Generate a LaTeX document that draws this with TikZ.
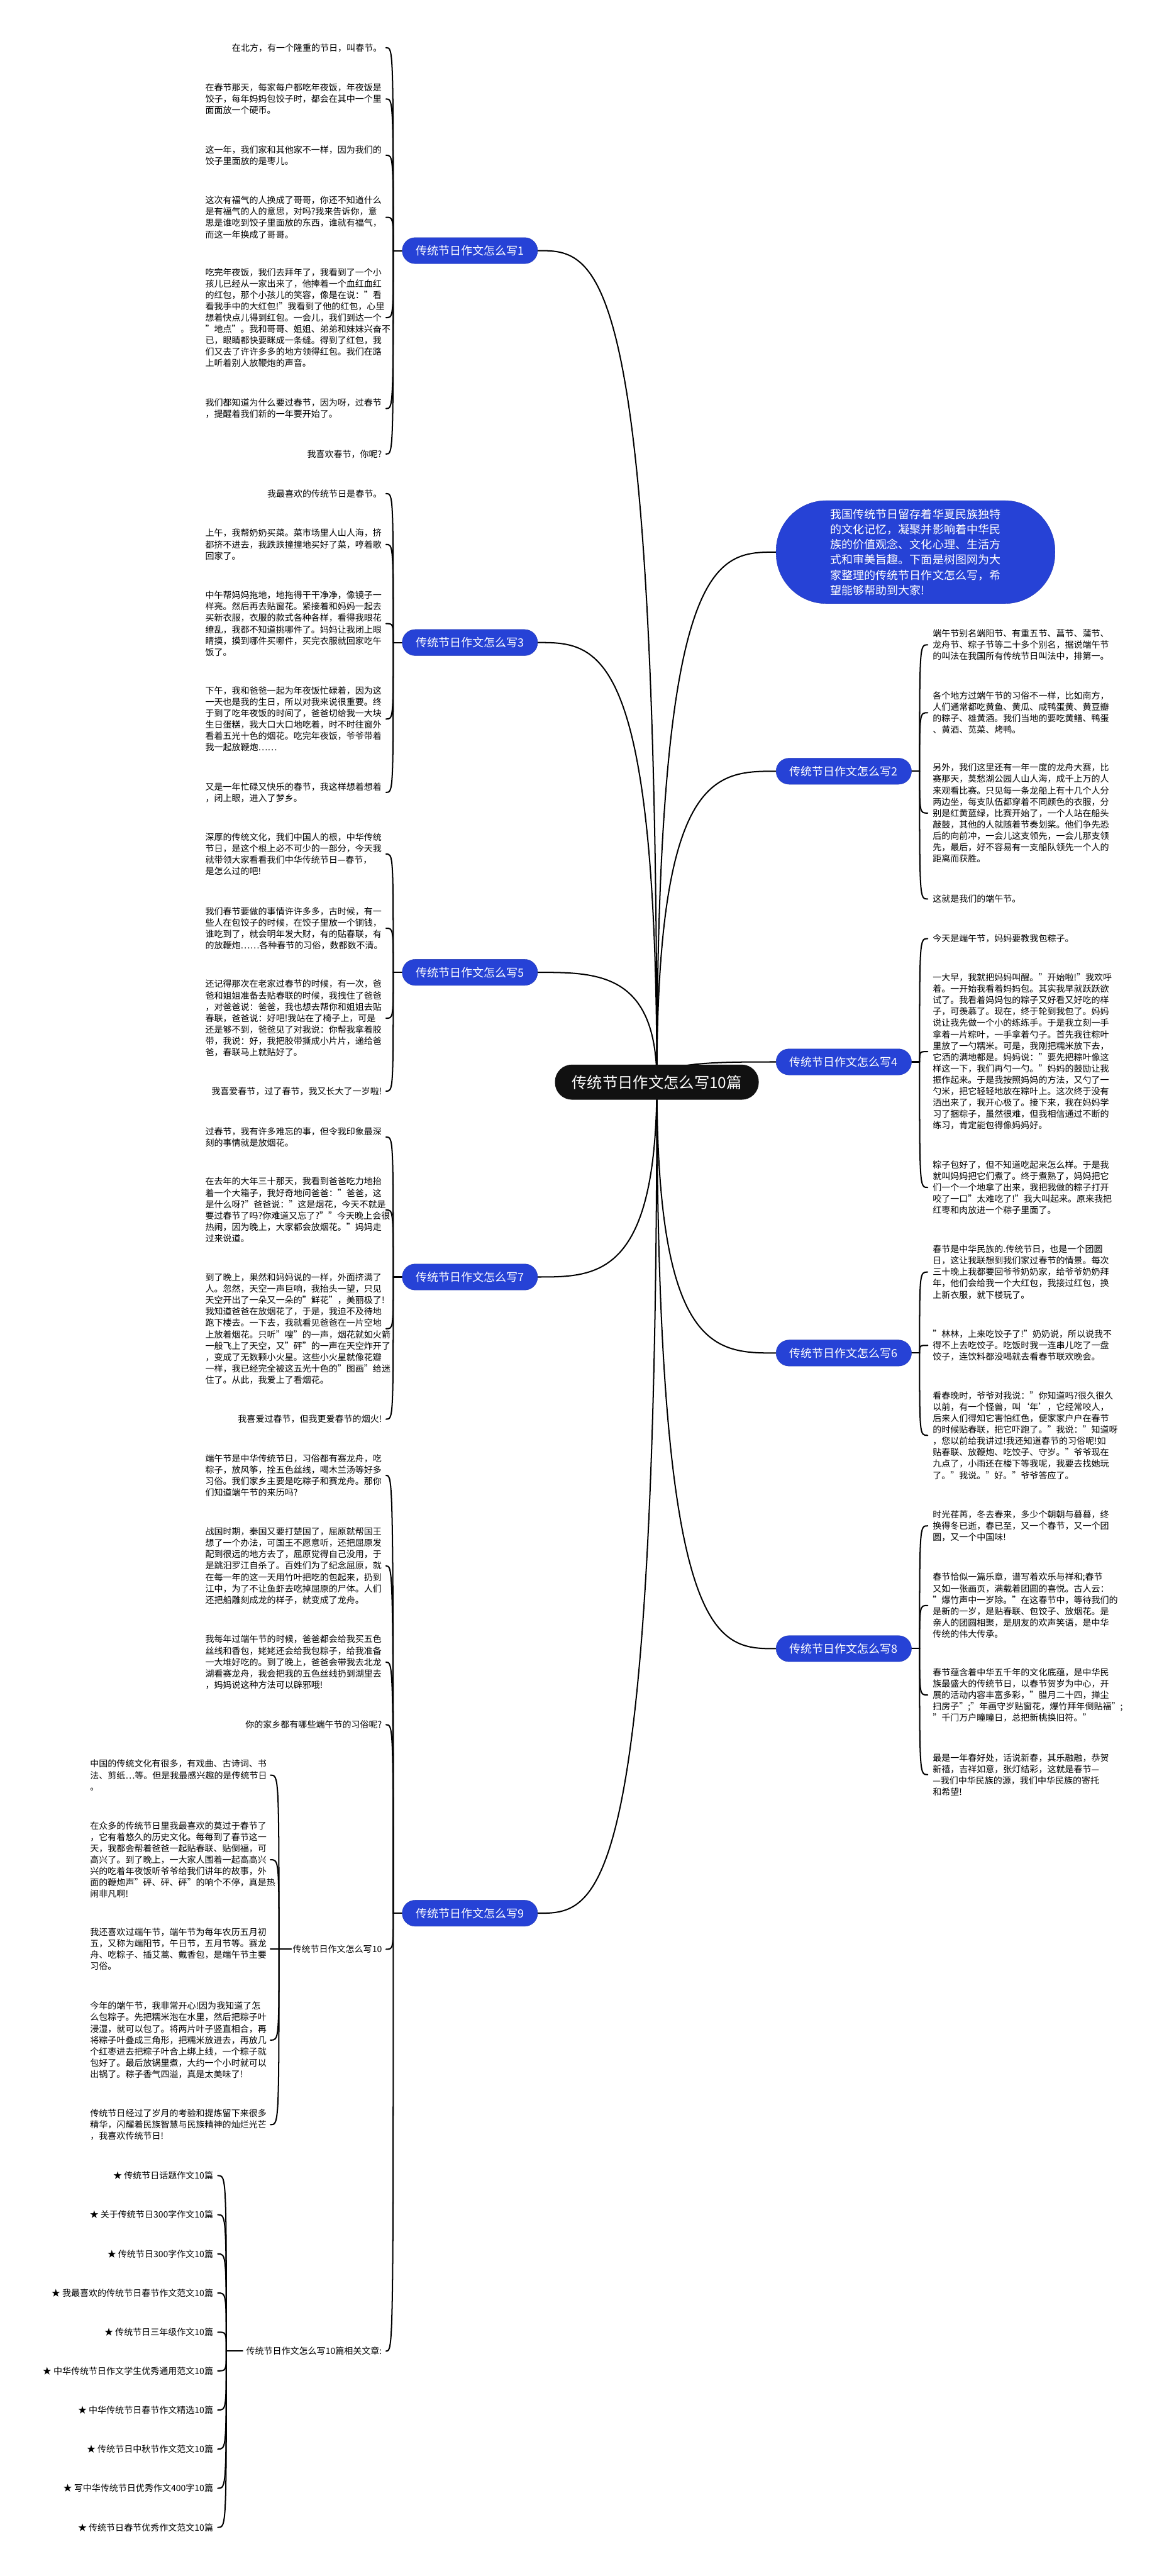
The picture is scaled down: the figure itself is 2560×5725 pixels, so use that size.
\documentclass[tikz,border=0pt]{standalone}
\usepackage{fontspec}
\setmainfont{Noto Sans CJK SC}
\usetikzlibrary{calc}
\setlength{\parindent}{0pt}
\definecolor{topicblue}{RGB}{38,66,214}
\definecolor{topicedge}{RGB}{30,52,175}
\definecolor{rootblack}{RGB}{17,17,17}
\pgfdeclarelayer{wm}
\pgfdeclarelayer{bg}
\pgfsetlayers{wm,bg,main}
\begin{document}
\begin{tikzpicture}[x=0.05cm,y=-0.05cm,
  bodytxt/.style={inner sep=0pt, font=\fontsize{27.88pt}{36pt}\selectfont, align=left},
  lone/.style={bodytxt, anchor=east},
  lblock/.style={bodytxt, anchor=east, text width=19.62cm},
  rone/.style={bodytxt, anchor=west},
  rblock/.style={bodytxt, anchor=west, text width=19.62cm},
  topicnode/.style={fill=topicblue, draw=topicedge, line width=0.8pt, text=white, rounded corners=1.44cm, minimum width=15.05cm, minimum height=2.9cm, inner sep=0pt, font=\fontsize{35.85pt}{44pt}\selectfont},
  rootnode/.style={fill=rootblack, text=white, rounded corners=1.9cm, minimum width=22.65cm, minimum height=3.9cm, inner sep=0pt, font=\fontsize{48.4pt}{52pt}\selectfont},
  intronode/.style={fill=topicblue, draw=topicedge, line width=0.8pt, text=white, rounded corners=5.6cm, minimum width=31cm, minimum height=11.45cm, inner sep=0pt, align=left, font=\fontsize{35.85pt}{48.2pt}\selectfont},
  conn/.style={line width=4pt, line cap=round, black}
]
\useasboundingbox (0,0) rectangle (2560,5725);
\begin{pgfonlayer}{wm}
\fill[white] (0,0) rectangle (2560,5725);
\end{pgfonlayer}

% root
\node[rootnode] (c) at (1460,2405) {传统节日作文怎么写10篇};

% intro
\node[intronode] (intro) at (2035,1227) {我国传统节日留存着华夏民族独特\\的文化记忆，凝聚并影响着中华民\\族的价值观念、文化心理、生活方\\式和审美旨趣。下面是树图网为大\\家整理的传统节日作文怎么写，希\\望能够帮助到大家!};

% topics
\node[topicnode] (t1) at (1044.5,557) {传统节日作文怎么写1};
\node[topicnode] (t3) at (1044.5,1428) {传统节日作文怎么写3};
\node[topicnode] (t5) at (1044.5,2161) {传统节日作文怎么写5};
\node[topicnode] (t7) at (1044.5,2838) {传统节日作文怎么写7};
\node[topicnode] (t9) at (1044.5,4252) {传统节日作文怎么写9};
\node[topicnode] (t2) at (1875.5,1714) {传统节日作文怎么写2};
\node[topicnode] (t4) at (1875.5,2360) {传统节日作文怎么写4};
\node[topicnode] (t6) at (1875.5,3007) {传统节日作文怎么写6};
\node[topicnode] (t8) at (1875.5,3664) {传统节日作文怎么写8};

% branch 1
\node[lone] (a1) at (849,106) {在北方，有一个隆重的节日，叫春节。};
\node[lblock] (a2) at (849,220) {在春节那天，每家每户都吃年夜饭，年夜饭是\\饺子，每年妈妈包饺子时，都会在其中一个里\\面面放一个硬币。};
\node[lblock] (a3) at (849,345) {这一年，我们家和其他家不一样，因为我们的\\饺子里面放的是枣儿。};
\node[lblock] (a4) at (849,483) {这次有福气的人换成了哥哥，你还不知道什么\\是有福气的人的意思，对吗?我来告诉你，意\\思是谁吃到饺子里面放的东西，谁就有福气，\\而这一年换成了哥哥。};
\node[lblock] (a5) at (849,706) {吃完年夜饭，我们去拜年了，我看到了一个小\\孩儿已经从一家出来了，他捧着一个血红血红\\的红包，那个小孩儿的笑容，像是在说："看\\看我手中的大红包!"我看到了他的红包，心里\\想着快点儿得到红包。一会儿，我们到达一个\\"地点"。我和哥哥、姐姐、弟弟和妹妹兴奋不\\已，眼睛都快要眯成一条缝。得到了红包，我\\们又去了许许多多的地方领得红包。我们在路\\上听着别人放鞭炮的声音。};
\node[lblock] (a6) at (849,908) {我们都知道为什么要过春节，因为呀，过春节\\，提醒着我们新的一年要开始了。};
\node[lone] (a7) at (849,1009) {我喜欢春节，你呢?};

% branch 3
\node[lone] (b1) at (849,1097) {我最喜欢的传统节日是春节。};
\node[lblock] (b2) at (849,1210) {上午，我帮奶奶买菜。菜市场里人山人海，挤\\都挤不进去，我跌跌撞撞地买好了菜，哼着歌\\回家了。};
\node[lblock] (b3) at (849,1386) {中午帮妈妈拖地，地拖得干干净净，像镜子一\\样亮。然后再去贴窗花。紧接着和妈妈一起去\\买新衣服，衣服的款式各种各样，看得我眼花\\缭乱，我都不知道挑哪件了。妈妈让我闭上眼\\睛摸，摸到哪件买哪件，买完衣服就回家吃午\\饭了。};
\node[lblock] (b4) at (849,1598) {下午，我和爸爸一起为年夜饭忙碌着，因为这\\一天也是我的生日，所以对我来说很重要。终\\于到了吃年夜饭的时间了，爸爸切给我一大块\\生日蛋糕，我大口大口地吃着，时不时往窗外\\看着五光十色的烟花。吃完年夜饭，爷爷带着\\我一起放鞭炮……};
\node[lblock] (b5) at (849,1761) {又是一年忙碌又快乐的春节，我这样想着想着\\，闭上眼，进入了梦乡。};

% branch 5
\node[lblock] (c1) at (849,1898) {深厚的传统文化，我们中国人的根，中华传统\\节日，是这个根上必不可少的一部分，今天我\\就带领大家看看我们中华传统节日—春节，\\是怎么过的吧!};
\node[lblock] (c2) at (849,2063) {我们春节要做的事情许许多多，古时候，有一\\些人在包饺子的时候，在饺子里放一个铜钱，\\谁吃到了，就会明年发大财，有的贴春联，有\\的放鞭炮……各种春节的习俗，数都数不清。};
\node[lblock] (c3) at (849,2263) {还记得那次在老家过春节的时候，有一次，爸\\爸和姐姐准备去贴春联的时候，我拽住了爸爸\\，对爸爸说：爸爸，我也想去帮你和姐姐去贴\\春联，爸爸说：好吧!我站在了椅子上，可是\\还是够不到，爸爸见了对我说：你帮我拿着胶\\带，我说：好，我把胶带撕成小片片，递给爸\\爸，春联马上就贴好了。};
\node[lone] (c4) at (849,2425) {我喜爱春节，过了春节，我又长大了一岁啦!};

% branch 7
\node[lblock] (d1) at (849,2527) {过春节，我有许多难忘的事，但令我印象最深\\刻的事情就是放烟花。};
\node[lblock] (d2) at (849,2689) {在去年的大年三十那天，我看到爸爸吃力地抬\\着一个大箱子，我好奇地问爸爸："爸爸，这\\是什么呀?"爸爸说："这是烟花，今天不就是\\要过春节了吗?你难道又忘了?""今天晚上会很\\热闹，因为晚上，大家都会放烟花。"妈妈走\\过来说道。};
\node[lblock] (d3) at (849,2953) {到了晚上，果然和妈妈说的一样，外面挤满了\\人。忽然，天空一声巨响，我抬头一望，只见\\天空开出了一朵又一朵的"鲜花"，美丽极了!\\我知道爸爸在放烟花了，于是，我迫不及待地\\跑下楼去。一下去，我就看见爸爸在一片空地\\上放着烟花。只听"嗖"的一声，烟花就如火箭\\一般飞上了天空，又"砰"的一声在天空炸开了\\，变成了无数颗小火星。这些小火星就像花瓣\\一样，我已经完全被这五光十色的"图画"给迷\\住了。从此，我爱上了看烟花。};
\node[lone] (d4) at (849,3154) {我喜爱过春节，但我更爱春节的烟火!};

% branch 9
\node[lblock] (e1) at (849,3279) {端午节是中华传统节日，习俗都有赛龙舟，吃\\粽子，放风筝，拴五色丝线，喝木兰汤等好多\\习俗。我们家乡主要是吃粽子和赛龙舟。那你\\们知道端午节的来历吗?};
\node[lblock] (e2) at (849,3480) {战国时期，秦国又要打楚国了，屈原就帮国王\\想了一个办法，可国王不愿意听，还把屈原发\\配到很远的地方去了，屈原觉得自己没用，于\\是跳汨罗江自杀了。百姓们为了纪念屈原，就\\在每一年的这一天用竹叶把吃的包起来，扔到\\江中，为了不让鱼虾去吃掉屈原的尸体。人们\\还把船雕刻成龙的样子，就变成了龙舟。};
\node[lblock] (e3) at (849,3694) {我每年过端午节的时候，爸爸都会给我买五色\\丝线和香包，姥姥还会给我包粽子，给我准备\\一大堆好吃的。到了晚上，爸爸会带我去北龙\\湖看赛龙舟，我会把我的五色丝线扔到湖里去\\，妈妈说这种方法可以辟邪哦!};
\node[lone] (e4) at (849,3833) {你的家乡都有哪些端午节的习俗呢?};
\node[lone] (e5) at (849,4332) {传统节日作文怎么写10};
\node[lone] (e6) at (849,5225) {传统节日作文怎么写10篇相关文章:};

% branch 10 (sub)
\node[lblock] (f1) at (593,3945) {中国的传统文化有很多，有戏曲、古诗词、书\\法、剪纸…等。但是我最感兴趣的是传统节日\\。};
\node[lblock] (f2) at (593,4133) {在众多的传统节日里我最喜欢的莫过于春节了\\，它有着悠久的历史文化。每每到了春节这一\\天，我都会帮着爸爸一起贴春联、贴倒福，可\\高兴了。到了晚上，一大家人围着一起高高兴\\兴的吃着年夜饭听爷爷给我们讲年的故事，外\\面的鞭炮声"砰、砰、砰"的响个不停，真是热\\闹非凡啊!};
\node[lblock] (f3) at (593,4332) {我还喜欢过端午节，端午节为每年农历五月初\\五，又称为端阳节，午日节，五月节等。赛龙\\舟、吃粽子、插艾蒿、戴香包，是端午节主要\\习俗。};
\node[lblock] (f4) at (593,4534) {今年的端午节，我非常开心!因为我知道了怎\\么包粽子。先把糯米泡在水里，然后把粽子叶\\浸湿，就可以包了。将两片叶子竖直相合，再\\将粽子叶叠成三角形，把糯米放进去，再放几\\个红枣进去把粽子叶合上绑上线，一个粽子就\\包好了。最后放锅里煮，大约一个小时就可以\\出锅了。粽子香气四溢，真是太美味了!};
\node[lblock] (f5) at (593,4722) {传统节日经过了岁月的考验和提炼留下来很多\\精华，闪耀着民族智慧与民族精神的灿烂光芒\\，我喜欢传统节日!};

% related articles
\node[lone] (r1) at (474,4835) {★ 传统节日话题作文10篇};
\node[lone] (r2) at (474,4922) {★ 关于传统节日300字作文10篇};
\node[lone] (r3) at (474,5009) {★ 传统节日300字作文10篇};
\node[lone] (r4) at (474,5096) {★ 我最喜欢的传统节日春节作文范文10篇};
\node[lone] (r5) at (474,5183) {★ 传统节日三年级作文10篇};
\node[lone] (r6) at (474,5269) {★ 中华传统节日作文学生优秀通用范文10篇};
\node[lone] (r7) at (474,5356) {★ 中华传统节日春节作文精选10篇};
\node[lone] (r8) at (474,5443) {★ 传统节日中秋节作文范文10篇};
\node[lone] (r9) at (474,5530) {★ 写中华传统节日优秀作文400字10篇};
\node[lone] (r10) at (474,5617) {★ 传统节日春节优秀作文范文10篇};

% branch 2
\node[rblock] (g1) at (2073,1433) {端午节别名端阳节、有重五节、菖节、蒲节、\\龙舟节、粽子节等二十多个别名，据说端午节\\的叫法在我国所有传统节日叫法中，排第一。};
\node[rblock] (g2) at (2073,1584) {各个地方过端午节的习俗不一样，比如南方，\\人们通常都吃黄鱼、黄瓜、咸鸭蛋黄、黄豆瓣\\的粽子、雄黄酒。我们当地的要吃黄鳝、鸭蛋\\、黄酒、苋菜、烤鸭。};
\node[rblock] (g3) at (2073,1807) {另外，我们这里还有一年一度的龙舟大赛，比\\赛那天，莫愁湖公园人山人海，成千上万的人\\来观看比赛。只见每一条龙船上有十几个人分\\两边坐，每支队伍都穿着不同颜色的衣服，分\\别是红黄蓝绿，比赛开始了，一个人站在船头\\敲鼓，其他的人就随着节奏划桨。他们争先恐\\后的向前冲，一会儿这支领先，一会儿那支领\\先，最后，好不容易有一支船队领先一个人的\\距离而获胜。};
\node[rone] (g4) at (2073,1998) {这就是我们的端午节。};

% branch 4
\node[rone] (h1) at (2073,2086) {今天是端午节，妈妈要教我包粽子。};
\node[rblock] (h2) at (2073,2337) {一大早，我就把妈妈叫醒。"开始啦!"我欢呼\\着。一开始我看着妈妈包。其实我早就跃跃欲\\试了。我看着妈妈包的粽子又好看又好吃的样\\子，可羡慕了。现在，终于轮到我包了。妈妈\\说让我先做一个小的练练手。于是我立刻一手\\拿着一片粽叶，一手拿着勺子。首先我往粽叶\\里放了一勺糯米。可是，我刚把糯米放下去，\\它洒的满地都是。妈妈说："要先把粽叶像这\\样这一下，我们再勺一勺。"妈妈的鼓励让我\\振作起来。于是我按照妈妈的方法，又勺了一\\勺米，把它轻轻地放在粽叶上。这次终于没有\\洒出来了，我开心极了。接下来，我在妈妈学\\习了捆粽子，虽然很难，但我相信通过不断的\\练习，肯定能包得像妈妈好。};
\node[rblock] (h3) at (2073,2639) {粽子包好了，但不知道吃起来怎么样。于是我\\就叫妈妈把它们煮了。终于煮熟了，妈妈把它\\们一个一个地拿了出来，我把我做的粽子打开\\咬了一口"太难吃了!"我大叫起来。原来我把\\红枣和肉放进一个粽子里面了。};

% branch 6
\node[rblock] (i1) at (2073,2827) {春节是中华民族的.传统节日，也是一个团圆\\日，这让我联想到我们家过春节的情景。每次\\三十晚上我都要回爷爷奶奶家，给爷爷奶奶拜\\年，他们会给我一个大红包，我接过红包，换\\上新衣服，就下楼玩了。};
\node[rblock] (i2) at (2073,2990) {"林林，上来吃饺子了!"奶奶说，所以说我不\\得不上去吃饺子。吃饭时我一连串儿吃了一盘\\饺子，连饮料都没喝就去看春节联欢晚会。};
\node[rblock] (i3) at (2073,3190) {看春晚时，爷爷对我说："你知道吗?很久很久\\以前，有一个怪兽，叫‘年’，它经常咬人，\\后来人们得知它害怕红色，便家家户户在春节\\的时候贴春联，把它吓跑了。"我说："知道呀\\，您以前给我讲过!我还知道春节的习俗呢!如\\贴春联、放鞭炮、吃饺子、守岁。"爷爷现在\\九点了，小雨还在楼下等我呢，我要去找她玩\\了。"我说。"好。"爷爷答应了。};

% branch 8
\node[rblock] (k1) at (2073,3391) {时光荏苒，冬去春来，多少个朝朝与暮暮，终\\换得冬已逝，春已至，又一个春节，又一个团\\圆，又一个中国味!};
\node[rblock] (k2) at (2073,3568) {春节恰似一篇乐章，谱写着欢乐与祥和;春节\\又如一张画页，满载着团圆的喜悦。古人云：\\"爆竹声中一岁除。"在这春节中，等待我们的\\是新的一岁，是贴春联、包饺子、放烟花。是\\亲人的团圆相聚，是朋友的欢声笑语，是中华\\传统的伟大传承。};
\node[rblock] (k3) at (2073,3767) {春节蕴含着中华五千年的文化底蕴，是中华民\\族最盛大的传统节日，以春节贺岁为中心，开\\展的活动内容丰富多彩，"腊月二十四，掸尘\\扫房子";"年画守岁贴窗花，爆竹拜年倒贴福";\\"千门万户瞳瞳日，总把新桃换旧符。"};
\node[rblock] (k4) at (2073,3944) {最是一年春好处，话说新春，其乐融融，恭贺\\新禧，吉祥如意，张灯结彩，这就是春节—\\—我们中华民族的源，我们中华民族的寄托\\和希望!};

% junctions
\coordinate (j1) at (874,557);
\coordinate (j3) at (874,1428);
\coordinate (j5) at (874,2161);
\coordinate (j7) at (874,2838);
\coordinate (j9) at (874,4252);
\coordinate (j2) at (2044,1714);
\coordinate (j4) at (2044,2360);
\coordinate (j6) at (2044,3007);
\coordinate (j8) at (2044,3664);
\coordinate (j10) at (620,4332);
\coordinate (j11) at (503,5225);

\begin{pgfonlayer}{bg}
% root to topics
\foreach \n in {t1,t3,t5,t7,t9} {\draw[conn] (c.center) .. controls (c.center |- \n.east) and ($(\n.east)!0.5!(c.center |- \n.east)$) .. (\n.east);}
\foreach \n in {intro,t2,t4,t6,t8} {\draw[conn] (c.center) .. controls (c.center |- \n.west) and ($(\n.west)!0.5!(c.center |- \n.west)$) .. (\n.west);}
% stubs
\foreach \t/\j in {t1/j1,t3/j3,t5/j5,t7/j7,t9/j9} {\draw[conn] (\t.west) -- (\j);}
\foreach \t/\j in {t2/j2,t4/j4,t6/j6,t8/j8} {\draw[conn] (\t.east) -- (\j);}
\draw[conn] ($(e5.west)+(-3,0)$) -- (j10);
\draw[conn] ($(e6.west)+(-8,0)$) -- (j11);
% left brackets
\foreach \j/\k in {j1/a1,j1/a2,j1/a3,j1/a4,j1/a5,j1/a6,j1/a7,j3/b1,j3/b2,j3/b3,j3/b4,j3/b5,j5/c1,j5/c2,j5/c3,j5/c4,j7/d1,j7/d2,j7/d3,j7/d4,j9/e1,j9/e2,j9/e3,j9/e4,j9/e5,j9/e6}
  {\draw[conn] (\j) .. controls (\j |- \k.east) and (\j |- \k.east) .. ($(\k.east)+(9,0)$);}
\foreach \k in {f1,f2,f3,f4,f5}
  {\draw[conn] (j10) .. controls (j10 |- \k.east) and (j10 |- \k.east) .. ($(\k.east)+(8,0)$);}
\foreach \k in {r1,r2,r3,r4,r5,r6,r7,r8,r9,r10}
  {\draw[conn] (j11) .. controls (j11 |- \k.east) and (j11 |- \k.east) .. ($(\k.east)+(10,0)$);}
% right brackets
\foreach \j/\k in {j2/g1,j2/g2,j2/g3,j2/g4,j4/h1,j4/h2,j4/h3,j6/i1,j6/i2,j6/i3,j8/k1,j8/k2,j8/k3,j8/k4}
  {\draw[conn] (\j) .. controls (\j |- \k.west) and (\j |- \k.west) .. ($(\k.west)+(-11,0)$);}
\end{pgfonlayer}
\end{tikzpicture}
\end{document}
